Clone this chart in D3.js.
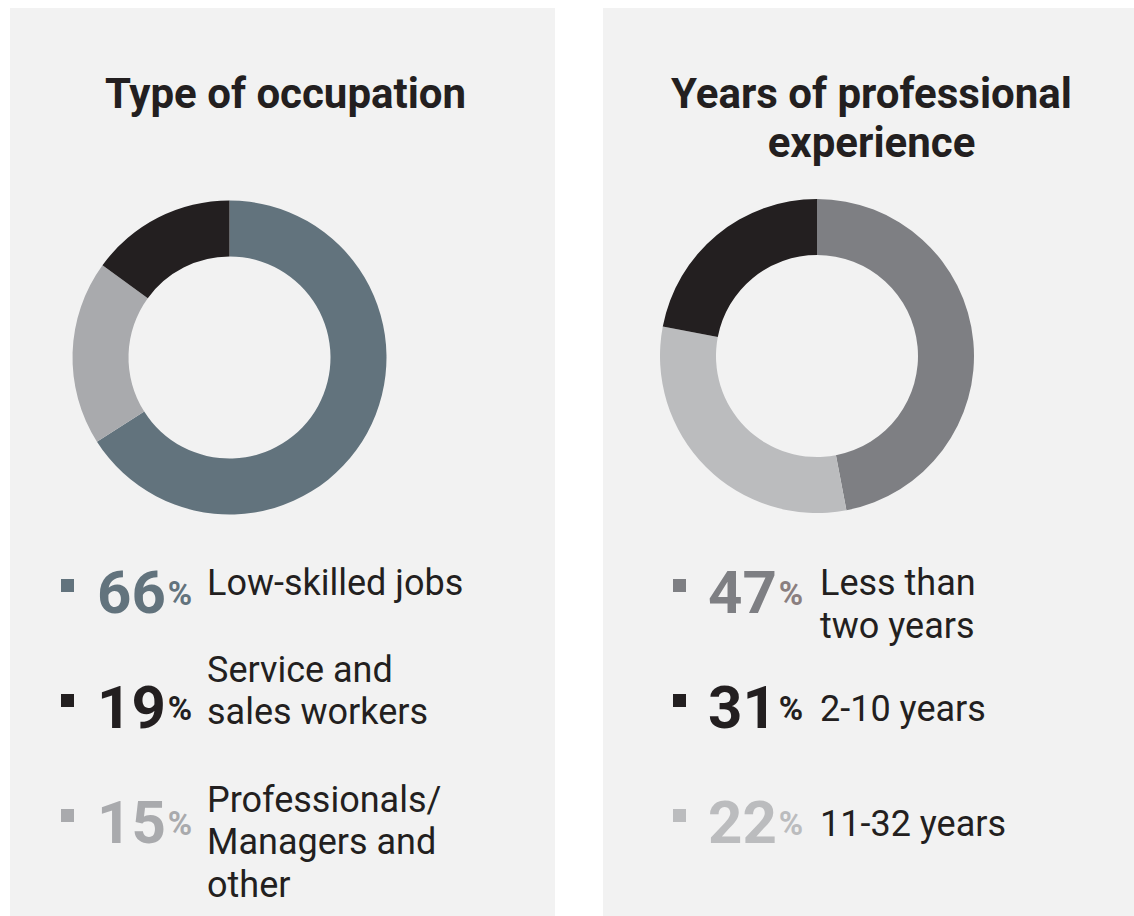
<!DOCTYPE html>
<html>
<head>
<meta charset="utf-8">
<script src="https://cdn.jsdelivr.net/npm/d3@7"></script>
<style>
  html, body { margin: 0; padding: 0; background: #ffffff; }
  svg { display: block; font-family: Roboto, "Noto Sans", sans-serif; }
</style>
</head>
<body>
<svg id="chart" width="1134" height="916"></svg>
<script>
// Panel titles
const occupationTitle = ["Type of occupation"];
const experienceTitle = ["Years of professional", "experience"];

// Shares (per cent)
const occupationValues = [66, 19, 15];
const experienceValues = [47, 31, 22];

// Category labels, one entry per line
const occupationLabels = [["Low-skilled jobs"], ["Service and", "sales workers"], ["Professionals/", "Managers and", "other"]];
const experienceLabels = [["Less than", "two years"], ["2-10 years"], ["11-32 years"]];

// Ring colours (clockwise from 12 o'clock) and legend colours
const occupationRing = ["#62737d", "#a9aaad", "#231f20"];
const occupationKey = ["#62737d", "#231f20", "#a9aaad"];
const experienceRing = ["#7e7f83", "#bbbcbe", "#231f20"];
const experienceKey = ["#7e7f83", "#231f20", "#bbbcbe"];
const experiencePct = ["#8a7f80", "#231f20", "#bbbcbe"];

const svg = d3.select("#chart");
const W = 1134, H = 916;

const panels = [
  { x0: 10, x1: 555, title: occupationTitle, values: occupationValues, labels: occupationLabels,
    ring: occupationRing, key: occupationKey, pct: occupationKey,
    sqX: 61, numX: 97, labX: 207, cx: 229.5, cy: 357.5,
    labelTop: [-18, -46.5, -31.5] },
  { x0: 603, x1: 1134, title: experienceTitle, values: experienceValues, labels: experienceLabels,
    ring: experienceRing, key: experienceKey, pct: experiencePct,
    sqX: 673, numX: 708, labX: 820, cx: 817, cy: 356,
    labelTop: [-18, -7, -7.5] }
];

const pie = d3.pie().sort(null).value(d => d).startAngle(0).endAngle(2 * Math.PI);
const arc = d3.arc().innerRadius(101).outerRadius(157);

const rowY = d3.scalePoint().domain([0, 1, 2]).range([613, 843]);
const lineH = 42.5;

panels.forEach(p => {
  const g = svg.append("g");
  g.append("rect")
    .attr("x", p.x0).attr("y", 8)
    .attr("width", p.x1 - p.x0).attr("height", H - 8)
    .attr("fill", "#f2f2f2");

  const mid = (p.x0 + p.x1) / 2 + 3;
  g.append("text")
    .attr("text-anchor", "middle")
    .attr("font-size", 42).attr("font-weight", 700).attr("fill", "#231f20")
    .selectAll("tspan").data(p.title).join("tspan")
    .attr("x", mid).attr("y", (d, i) => 108 + i * 49)
    .text(d => d);

  // Donut
  g.append("g").attr("transform", `translate(${p.cx},${p.cy})`)
    .selectAll("path").data(pie(p.values)).join("path")
    .attr("d", arc)
    .attr("fill", (d, i) => p.ring[i]);

  // Legend rows
  p.values.forEach((v, i) => {
    const y = rowY(i);
    g.append("rect")
      .attr("x", p.sqX).attr("y", y - 34).attr("width", 13).attr("height", 13)
      .attr("fill", p.key[i]);
    const num = g.append("text")
      .attr("x", p.numX).attr("y", y)
      .attr("font-size", 60).attr("font-weight", 700)
      .attr("fill", p.key[i])
      .text(v);
    const w = num.node().getComputedTextLength();
    g.append("text")
      .attr("x", p.numX + w + 2).attr("y", y - 8)
      .attr("font-size", 33).attr("font-weight", 700)
      .attr("fill", p.pct[i])
      .text("%");
    g.append("text")
      .attr("font-size", 36).attr("fill", "#231f20")
      .selectAll("tspan").data(p.labels[i]).join("tspan")
      .attr("x", p.labX).attr("y", (d, k) => y + p.labelTop[i] + k * lineH)
      .text(d => d);
  });
});
</script>
</body>
</html>
